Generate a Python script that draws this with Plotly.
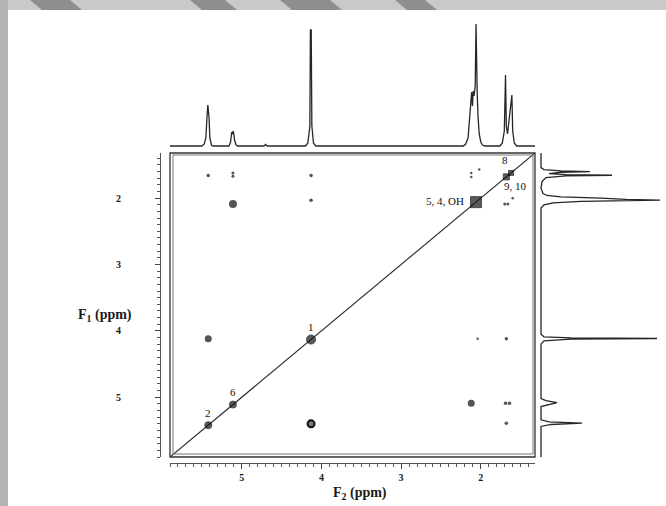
import plotly.graph_objects as go

W, H = 666, 506

# ---------------- data ----------------
# 1D proton spectrum along F2 (top): ppm vs intensity (arbitrary units)
top_ppm = [5.90, 5.50, 5.47, 5.45, 5.435, 5.425, 5.418, 5.41, 5.40, 5.38, 5.36,
           5.16, 5.14, 5.125, 5.115, 5.105, 5.09, 5.07, 5.05,
           4.72, 4.70, 4.68,
           4.20, 4.17, 4.145, 4.138, 4.128, 4.12, 4.10, 4.07,
           2.22, 2.19, 2.16, 2.14, 2.125, 2.115, 2.105, 2.095, 2.085, 2.07, 2.06,
           2.052, 2.045, 2.035, 2.02, 2.00, 1.98, 1.95,
           1.76, 1.73, 1.705, 1.69, 1.68, 1.665, 1.655, 1.61, 1.60, 1.58, 1.55, 1.32]
top_int = [0, 0, 2, 8, 30, 41, 35, 28, 8, 1, 0,
           0, 4, 14, 12, 15, 6, 1, 0,
           0, 1.5, 0,
           0, 3, 20, 116, 116, 20, 3, 0,
           0, 2, 8, 25, 45, 54, 40, 55, 50, 60, 122,
           60, 52, 30, 12, 4, 1, 0,
           0, 3, 15, 71, 20, 12, 20, 51, 15, 3, 0, 0]

# 1D proton spectrum along F1 (right): ppm vs intensity
side_ppm = [1.32, 1.54, 1.57, 1.59, 1.60, 1.61, 1.63, 1.645, 1.655, 1.665, 1.69, 1.75,
            1.85, 1.93, 1.96, 1.98, 2.00, 2.01, 2.02, 2.03, 2.04, 2.05, 2.07, 2.10, 2.15,
            4.05, 4.09, 4.105, 4.115, 4.125, 4.15, 4.20,
            5.02, 5.05, 5.08, 5.11, 5.14,
            5.34, 5.37, 5.39, 5.41, 5.44, 5.90]
side_int = [0, 0, 3, 20, 49, 20, 8, 25, 71, 25, 5, 1,
            0, 2, 6, 20, 60, 75, 85, 119, 80, 40, 12, 3, 0,
            0, 3, 30, 116, 30, 3, 0,
            0, 5, 16, 8, 0,
            0, 8, 41, 10, 0, 0]

# COSY diagonal peaks
diag_ppm = [5.42, 5.11, 4.13, 2.06, 1.68, 1.62]
diag_size = [7, 7, 9, 11, 6, 5]
diag_symbol = ["circle", "circle", "circle", "square", "square", "square"]

# COSY cross peaks (F2, F1)
cross_f2 = [5.42, 5.11, 5.11, 4.13, 2.12, 2.12, 2.02, 5.11, 4.13, 1.70, 1.66, 1.60,
            5.42, 2.04, 1.68, 2.12, 1.69, 1.64, 1.68]
cross_f1 = [1.66, 1.62, 1.67, 1.66, 1.62, 1.68, 1.57, 2.09, 2.03, 2.09, 2.09, 2.00,
            4.12, 4.12, 4.12, 5.09, 5.09, 5.09, 5.39]
cross_size = [3.5, 3, 3, 3.5, 2.5, 2.5, 2.5, 8, 3.5, 3, 3, 2.5,
              7, 2.5, 3.5, 7, 3.5, 3.5, 3.5]

# ring-shaped cross peak (F2, F1)
ring_f2 = [4.13]
ring_f1 = [5.40]

# peak assignment labels
lab_text = ["8", "9, 10", "5, 4, OH", "1", "6", "2"]
lab_f2 = [1.70, 1.56, 2.19, 4.135, 5.106, 5.42]
lab_f1 = [1.43, 1.82, 2.05, 3.945, 4.915, 5.23]
lab_anchor = ["center", "center", "right", "center", "center", "center"]

ppm_lo, ppm_hi = 1.32, 5.90

# ---------------- layout helpers ----------------
def fx(px):
    return px / W

def fy(py):
    return 1 - py / H

SERIF = "Liberation Serif, DejaVu Serif, serif"
INK = "#262626"

fig = go.Figure()

fig.add_trace(go.Scatter(x=[ppm_hi, ppm_lo], y=[ppm_hi, ppm_lo], mode="lines",
                         line=dict(color="#333", width=1.2),
                         xaxis="x", yaxis="y", hoverinfo="skip", showlegend=False))
fig.add_trace(go.Scatter(x=cross_f2, y=cross_f1, mode="markers",
                         marker=dict(size=cross_size, color="#0d0d0d", line=dict(width=0)),
                         xaxis="x", yaxis="y", showlegend=False))
fig.add_trace(go.Scatter(x=ring_f2, y=ring_f1, mode="markers",
                         marker=dict(size=7, color="#777", line=dict(width=2, color="#0d0d0d")),
                         xaxis="x", yaxis="y", showlegend=False))
fig.add_trace(go.Scatter(x=diag_ppm, y=diag_ppm, mode="markers",
                         marker=dict(size=diag_size, symbol=diag_symbol, color="#151515",
                                     line=dict(width=1, color="#000")),
                         xaxis="x", yaxis="y", showlegend=False))
fig.add_trace(go.Scatter(x=top_ppm, y=top_int, mode="lines",
                         line=dict(color=INK, width=1.3),
                         xaxis="x", yaxis="y2", showlegend=False))
fig.add_trace(go.Scatter(x=side_int, y=side_ppm, mode="lines",
                         line=dict(color=INK, width=1.3),
                         xaxis="x3", yaxis="y", showlegend=False))

x_dom = [fx(170), fx(535)]
y_dom = [fy(457), fy(153)]

tickfont = dict(family=SERIF, size=10, color="#1a1a1a", weight="bold")
minor = dict(dtick=0.1, tick0=0, ticks="outside", ticklen=3, tickcolor="#555", tickwidth=1)

fig.update_layout(
    width=W, height=H,
    margin=dict(l=0, r=0, t=0, b=0),
    paper_bgcolor="white", plot_bgcolor="white",
    showlegend=False,
    xaxis=dict(domain=x_dom, range=[ppm_hi, ppm_lo], anchor="free", position=fy(463),
               side="bottom", showline=True, linecolor="#555", linewidth=1,
               ticks="outside", ticklen=5, tickcolor="#444", tickmode="linear",
               tick0=0, dtick=1, minor=minor, showgrid=False, zeroline=False,
               tickfont=tickfont),
    yaxis=dict(domain=y_dom, range=[ppm_hi, ppm_lo], anchor="free", position=fx(160),
               side="left", showline=True, linecolor="#555", linewidth=1,
               ticks="outside", ticklen=5, tickcolor="#444", tickmode="linear",
               tick0=0, dtick=1, minor=minor, showgrid=False, zeroline=False,
               tickfont=tickfont, ticklabelstandoff=32),
    yaxis2=dict(domain=[fy(150), fy(20)], range=[-4, 126], visible=False,
                anchor="x", showgrid=False, zeroline=False),
    xaxis3=dict(domain=[fx(537), 1.0], range=[-4, 125], visible=False,
                anchor="y", showgrid=False, zeroline=False),
)

# frame (double line) around the 2D map
fig.add_shape(type="rect", xref="x domain", yref="y domain", x0=0, x1=1, y0=0, y1=1,
              line=dict(color="#333", width=1.3))
fig.add_shape(type="rect", xref="x domain", yref="y domain",
              x0=3 / 365, x1=1 - 2 / 365, y0=3 / 304, y1=1 - 2 / 304,
              line=dict(color="#777", width=1))

# decorative scanned border (top and left bands)
fig.add_shape(type="rect", xref="paper", yref="paper", x0=0, x1=1, y0=fy(10), y1=1,
              line=dict(width=0), fillcolor="#c9c9c9", layer="below")
for a, b in [(30, 70), (190, 225), (280, 330), (395, 425)]:
    fig.add_shape(type="path", xref="paper", yref="paper",
                  path=f"M {fx(a)},1 L {fx(b)},1 L {fx(b + 12)},{fy(10)} L {fx(a + 12)},{fy(10)} Z",
                  line=dict(width=0), fillcolor="#8e8e8e", layer="below")
fig.add_shape(type="rect", xref="paper", yref="paper", x0=0, x1=fx(8), y0=0, y1=1,
              line=dict(width=0), fillcolor="#b3b3b3", layer="below")

# peak labels
for t, x, y, anc in zip(lab_text, lab_f2, lab_f1, lab_anchor):
    fig.add_annotation(x=x, y=y, xref="x", yref="y", text=t, showarrow=False,
                       xanchor=anc, yanchor="middle",
                       font=dict(family=SERIF, size=11, color="#111"))

# axis titles
fig.add_annotation(x=fx(360), y=fy(483), xref="paper", yref="paper",
                   text="<b>F<sub>2</sub> (ppm)</b>", showarrow=False,
                   xanchor="center", yanchor="top",
                   font=dict(family=SERIF, size=14, color="#1a1a1a"))
fig.add_annotation(x=fx(76), y=fy(315), xref="paper", yref="paper",
                   text="<b>F<sub>1</sub> (ppm)</b>", showarrow=False,
                   font=dict(family=SERIF, size=14, color="#1a1a1a"))

fig.write_html("out.html")
